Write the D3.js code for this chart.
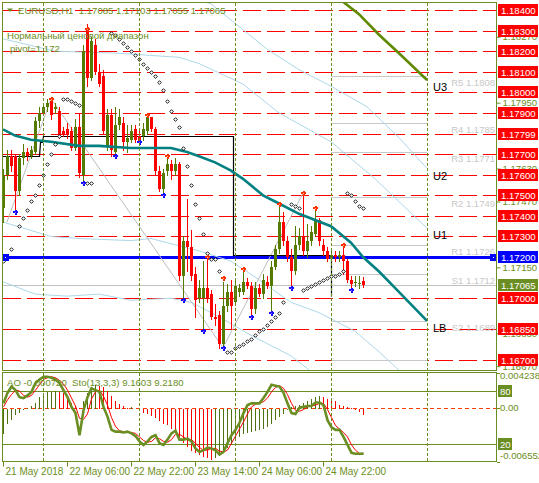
<!DOCTYPE html>
<html><head><meta charset="utf-8">
<script src="https://cdn.jsdelivr.net/npm/d3@7"></script>
<style>
html,body{margin:0;padding:0;background:#fff;}
svg{display:block;font-family:"Liberation Sans",Arial,sans-serif;}
</style></head><body>
<svg id="c" width="539" height="483"></svg>
<script>
// ---------------- DATA ----------------
const opens = [1.1744,1.1760,1.1769,1.1769,1.1752,1.1768,1.1771,1.1769,1.1771,1.1786,
1.1790,1.1793,1.1796,1.1792,1.1791,1.1781,1.1782,1.1781,1.1773,1.1783,
1.1760,1.1831,1.1807,1.1823,1.1810,1.1808,1.1774,1.1789,1.1771,1.1784,
1.1785,1.1776,1.1777,1.1782,1.1779,1.1779,1.1781,1.1788,1.1782,1.1762,
1.1753,1.1762,1.1765,1.1762,1.1765,1.1711,1.1728,1.1725,1.1712,1.1700,
1.1700,1.1705,1.1702,1.1691,1.1692,1.1678,1.1696,1.1703,1.1698,1.1703,
1.1703,1.1708,1.1706,1.1695,1.1705,1.1702,1.1708,1.1706,1.1715,1.1724,
1.1737,1.1728,1.1720,1.1713,1.1726,1.1730,1.1723,1.1728,1.1731,1.1738,
1.1726,1.1723,1.1719,1.1721,1.1720,1.1721,1.1718,1.1709,1.17075,1.1707,1.17085];
const highs = [1.1763,1.1772,1.1772,1.1770,1.1770,1.1775,1.1773,1.1774,1.1788,1.1793,
1.1795,1.1797,1.1797,1.1795,1.1793,1.1783,1.1785,1.1783,1.1787,1.1790,
1.1823,1.1833,1.1827,1.1826,1.1814,1.1811,1.1792,1.1792,1.1793,1.1792,
1.1788,1.1784,1.1784,1.1784,1.1781,1.1785,1.1788,1.1788,1.1783,1.1764,
1.1763,1.1768,1.1767,1.1768,1.1766,1.1730,1.1748,1.1733,1.1715,1.1709,
1.1718,1.1719,1.1704,1.1697,1.1694,1.1708,1.1707,1.1709,1.1709,1.1707,
1.1713,1.1710,1.1708,1.1708,1.1707,1.1712,1.1711,1.1718,1.1726,1.1745,
1.1742,1.1730,1.1724,1.1735,1.1734,1.1750,1.1736,1.1735,1.1743,1.1739,
1.1729,1.1725,1.1724,1.1723,1.1723,1.1725,1.1719,1.1711,1.1711,1.1711,1.17103];
const lows = [1.1737,1.1758,1.1762,1.1743,1.1750,1.1765,1.1767,1.1768,1.1770,1.1783,
1.1789,1.1791,1.1787,1.1790,1.1778,1.1779,1.1778,1.1772,1.1772,1.1759,
1.1756,1.1803,1.1806,1.1809,1.1803,1.1780,1.1772,1.1769,1.1769,1.1782,
1.1772,1.1771,1.1776,1.1776,1.1776,1.1777,1.1780,1.1781,1.1760,1.1752,
1.1751,1.1760,1.1758,1.1760,1.1709,1.1700,1.1713,1.1709,1.1691,1.1698,
1.1685,1.1698,1.1690,1.1687,1.1676,1.1675,1.1694,1.1685,1.1697,1.1701,
1.1702,1.1705,1.1691,1.1693,1.1701,1.1700,1.1705,1.1693,1.1714,1.1722,
1.1726,1.1718,1.1706,1.1712,1.1724,1.1721,1.1720,1.1726,1.1730,1.1726,
1.1721,1.1718,1.1718,1.1718,1.1718,1.1712,1.1708,1.1705,1.1706,1.1705,1.17055];
const closes = [1.1760,1.1769,1.1764,1.1752,1.1768,1.1771,1.1769,1.1772,1.1786,1.1790,
1.1793,1.1795,1.1789,1.1793,1.1780,1.1780,1.1780,1.1773,1.1783,1.1761,
1.1820,1.1807,1.1825,1.1810,1.1804,1.1781,1.1789,1.1772,1.1784,1.1788,
1.1776,1.1778,1.1781,1.1777,1.1776,1.1782,1.1788,1.1782,1.1762,1.1753,
1.1761,1.1765,1.1762,1.1765,1.1711,1.1728,1.1725,1.1711,1.1699,1.1705,
1.1705,1.1700,1.1691,1.1690,1.1678,1.1696,1.1703,1.1696,1.1706,1.1705,
1.1708,1.1706,1.1695,1.1705,1.1702,1.1709,1.1706,1.1715,1.1724,1.1737,
1.1728,1.1720,1.1713,1.1726,1.1730,1.1723,1.1728,1.1732,1.1738,1.1728,
1.1723,1.1719,1.1721,1.1720,1.1721,1.1718,1.1709,1.1707,1.1708,1.17075,1.17065];

// Parabolic SAR (null = not visible)
const sar = [1.1718,null,1.1724,null,1.1735,1.1739,1.1743,1.1747,1.1750,1.1755,
1.1760,1.1765,1.1770,1.1775,1.1779,1.1797,1.1797,1.1796,1.1795,1.1794,
null,1.1756,1.1756,null,null,null,null,1.1829,1.1828,1.1826,
1.1824,1.1822,1.1820,1.1818,1.1816,1.1814,1.1812,1.1810,1.1808,1.1805,
1.1801,1.1796,1.1791,1.1787,1.1783,1.1773,1.1764,1.1755,1.1746,1.1739,
1.1731,1.1722,1.1719,1.1719,1.1713,null,1.1674,1.1674,1.1676,1.1677,
1.1678,1.1679,1.1680,1.1682,1.1684,1.1685,1.1687,1.1689,1.1691,1.1693,
1.1698,null,1.1746,1.1745,1.1744,1.1704,1.1705,1.1706,1.1707,1.1708,
1.1709,1.1710,1.1711,1.1711,1.1712,1.1713,1.1751,1.1750,1.1747,1.1745,1.1744];

// Fractals
const fracUpIdx = [12,21,36,41,51,55,60,69,75,78,85];
const fracUpVal = [1.1797,1.1831,1.1789,1.1769,1.1720,1.1710,1.1714,1.1746,1.1751,1.1744,1.1726];
const fracDnIdx = [3,20,28,34,40,45,50,55,62,67,72,87];
const fracDnVal = [1.1742,1.1756,1.1769,1.1776,1.1750,1.1699,1.1684,1.1676,1.1691,1.1693,1.1705,1.1704];

// Moving average (teal) and envelope / band lines, sampled at bar indices
const maIdx = [0,3,7,12,19,24,32,42,46,49,53,57,60,65,69,74,82,87,90,94,98,106];
const maVal = [1.1782,1.1779,1.1777,1.1776,1.1774,1.1774,1.1773,1.1773,1.1771,1.1769,1.1766,1.1762,1.1758,1.1750,1.1746,1.1741,1.1735,1.1727,1.1720,1.1713,1.1705,1.1689];
const aIdx = [30,40,48,52,59,66,74,82,91,99,106];
const aVal = [1.1848,1.1847,1.1845,1.1843,1.1832,1.1821,1.1811,1.1803,1.1793,1.1778,1.1763];
const bIdx = [0,13,29,44,49,60,69,82,93,106];
const bVal = [1.1826,1.1820,1.1819,1.1817,1.1814,1.1804,1.1790,1.1776,1.1758,1.1734];
const cIdx = [0,12,19,32,37,49,57,64,72,79,88,94,99];
const cVal = [1.1737,1.1730,1.1729,1.1728,1.1729,1.1723,1.1718,1.1709,1.1698,1.1693,1.1684,1.1674,1.1665];
const dIdx = [0,4,8,16,24,32,42,47,54,62,72,76,79];
const dVal = [1.1708,1.1705,1.1702,1.1701,1.1702,1.1699,1.1700,1.1698,1.1691,1.1682,1.1672,1.1666,1.1661];
const u3Idx = [83,89,94,99,106];
const u3Val = [1.1847,1.1838,1.1828,1.1819,1.1806];
const zzIdx = [1,12,55,75];
const zzVal = [1.1737,1.1797,1.1676,1.1751];
const stepIdx = [-0.25,9,9.25,9.75,10,57.5,57.5,82,82];
const stepVal = [1.1769,1.1769,1.1776,1.1776,1.1779,1.1779,1.1721,1.1721,1.1701];

// Levels
const redLevels = [1.184,1.183,1.182,1.181,1.180,1.179,1.17799,1.177,1.176,1.175,1.174,1.173,1.170,1.1685,1.167];
const pivotLevel = 1.172;
const lastPrice = 1.17065;
const pivotNames = ["R5","R4","R3","R2","R1","S1","S2","S3"];
const pivotVals = [1.1808,1.1785,1.1771,1.1749,1.1726,1.1712,1.1689,1.1670];
// price-scale ticks that are not hidden under the level tags
const priceTicks = [1.1827,1.1795,1.1763,1.1747,1.1715,1.1683,1.1667];

// Time axis
const xTickIdx = [0,16,32,48,64,80];
const xTickLabels = ["21 May 2018","22 May 06:00","22 May 22:00","23 May 14:00","24 May 06:00","24 May 22:00"];
const separatorIdx = [10,34,58,82,106];

// Indicators
const ao = [-0.0030,-0.0019,-0.0013,-0.0007,-0.0005,-0.0002,0.0001,0.0003,0.0007,0.0014,
0.0018,0.0020,0.0021,0.0022,0.0021,0.0019,0.0015,0.0007,0.0003,0.0001,
0.0010,0.0019,0.0025,0.0029,0.0028,0.0026,0.0022,0.0016,0.0010,0.0006,
0.0003,0.0001,0.0002,0.0000,-0.0002,-0.0005,-0.0006,-0.0009,-0.0011,-0.0015,
-0.0019,-0.0020,-0.0024,-0.0028,-0.0036,-0.0042,-0.0047,-0.0051,-0.0054,-0.0056,
-0.0058,-0.0060,-0.0062,-0.0060,-0.0057,-0.0053,-0.0048,-0.0044,-0.0039,-0.0034,
-0.0031,-0.0029,-0.0028,-0.0027,-0.0026,-0.0024,-0.0022,-0.0018,-0.0014,-0.0010,
-0.0006,-0.0002,0.0002,0.0004,0.0005,0.0007,0.0009,0.0012,0.0014,0.0016,
0.0015,0.0012,0.0010,0.0009,0.0005,0.0004,0.0002,0.0001,-0.0002,-0.0004,-0.00072];
const aoMax = 0.004238, aoMin = -0.006552;
const stoMain = [66,78,85,81,73,72,75,79,89,93,96,96,95,93,89,81,73,62,55,30,
58,73,83,81,79,62,51,36,34,34,33,34,32,29,23,19,23,28,30,21,
19,25,32,35,25,25,26,23,15,11,13,16,15,13,8,11,21,30,36,44,
55,64,66,66,66,72,79,87,86,85,78,66,55,54,61,62,63,63,67,67,
64,47,39,36,36,28,19,10,9,9,9.1603];
const stoSig = [62,70,76,81,80,75,73,75,81,87,93,95,96,95,92,88,81,72,63,49,
48,54,71,79,81,74,64,50,40,35,34,34,33,32,28,24,22,23,27,26,
23,22,25,31,31,28,25,25,21,16,13,13,15,15,12,11,13,21,29,37,
45,54,62,65,66,68,72,79,84,86,83,76,66,58,57,59,62,63,64,66,
66,59,50,41,37,33,28,19,13,9.3,9.218];

// ---------------- DRAW ----------------
const OL = "#6b8e23", BULL = "#557a00", BEAR = "#ff0000";
const FONT = '"Liberation Sans",Arial,sans-serif';
const svg = d3.select("#c");
const x = d3.scaleLinear().domain([0,106]).range([3,427]);
const y = d3.scaleLinear().domain([1.167,1.184]).range([360,10]);
const aoY = d3.scaleLinear().domain([aoMin,aoMax]).range([461.7,373]);
const stY = d3.scaleLinear().domain([0,100]).range([461.7,373.3]);
const py = v => Math.round(y(v)) + 0.5;
const px = i => Math.round(x(i));

const defs = svg.append("defs");
defs.append("clipPath").attr("id","cm").append("rect").attr("x",3).attr("y",3).attr("width",493).attr("height",367);
defs.append("clipPath").attr("id","ci").append("rect").attr("x",3).attr("y",373).attr("width",493).attr("height",88);

const gM = svg.append("g").attr("clip-path","url(#cm)");
const gI = svg.append("g").attr("clip-path","url(#ci)");

// red dashed horizontal levels
gM.selectAll("line.red").data(redLevels).join("line")
  .attr("x1",3).attr("x2",496).attr("y1",d=>py(d)).attr("y2",d=>py(d))
  .attr("stroke","#ff0000").attr("stroke-width",1).attr("stroke-dasharray","18,6");

// pivot gray segments
gM.selectAll("line.piv").data(pivotVals).join("line")
  .attr("x1",x(82)).attr("x2",x(106)).attr("y1",d=>py(d)).attr("y2",d=>py(d))
  .attr("stroke","#c8c8c8").attr("stroke-width",1);

// current price line
gM.append("line").attr("x1",3).attr("x2",496).attr("y1",py(lastPrice)).attr("y2",py(lastPrice))
  .attr("stroke","#c0c0c0").attr("stroke-width",1);

// pivot blue line
const yb = Math.round(y(pivotLevel)) + 0.5;
gM.append("line").attr("x1",3).attr("x2",496).attr("y1",yb).attr("y2",yb)
  .attr("stroke","#0000ff").attr("stroke-width",3);

// separators (both panels)
separatorIdx.forEach(i=>{
  svg.append("line").attr("x1",px(i)+0.5).attr("x2",px(i)+0.5).attr("y1",3).attr("y2",370)
    .attr("stroke",OL).attr("stroke-width",1).attr("stroke-dasharray","3,2");
  svg.append("line").attr("x1",px(i)+0.5).attr("x2",px(i)+0.5).attr("y1",373).attr("y2",461)
    .attr("stroke",OL).attr("stroke-width",1).attr("stroke-dasharray","3,2");
});

const lineFrom = (idx, val) => d3.line().x((d,k)=>x(idx[k])).y(d=>y(d))(val);

// light blue envelopes
[[aIdx,aVal],[bIdx,bVal],[cIdx,cVal],[dIdx,dVal]].forEach(([ii,vv])=>{
  gM.append("path").attr("d",lineFrom(ii,vv)).attr("fill","none").attr("stroke","#add8e6").attr("stroke-width",1);
});
// zigzag
gM.append("path").attr("d",lineFrom(zzIdx,zzVal)).attr("fill","none").attr("stroke","#bdbdbd").attr("stroke-width",1);
// black step line
gM.append("path").attr("d",d3.line().x((d,k)=>Math.round(x(stepIdx[k]))+0.5).y(d=>py(d))(stepVal))
  .attr("fill","none").attr("stroke","#000").attr("stroke-width",1.2);

// candles
const candles = opens.map((o,i)=>({i,o,h:highs[i],l:lows[i],c:closes[i]}));
const gc = gM.append("g").attr("shape-rendering","crispEdges");
gc.selectAll("line.w").data(candles).join("line")
  .attr("x1",d=>px(d.i)+0.5).attr("x2",d=>px(d.i)+0.5)
  .attr("y1",d=>Math.round(y(d.h))).attr("y2",d=>Math.round(y(d.l))+1)
  .attr("stroke",d=>d.c>=d.o?BULL:BEAR).attr("stroke-width",1);
gc.selectAll("rect.b").data(candles).join("rect")
  .attr("x",d=>px(d.i)-1).attr("width",3)
  .attr("y",d=>Math.round(y(Math.max(d.o,d.c))))
  .attr("height",d=>Math.max(1,Math.round(y(Math.min(d.o,d.c)))-Math.round(y(Math.max(d.o,d.c)))))
  .attr("fill",d=>d.c>=d.o?BULL:BEAR);

// teal MA
gM.append("path").attr("d",lineFrom(maIdx,maVal)).attr("fill","none").attr("stroke","#008080").attr("stroke-width",2.6);
// olive upper band
gM.append("path").attr("d",lineFrom(u3Idx,u3Val)).attr("fill","none").attr("stroke","#5f8a00").attr("stroke-width",2.6);

// SAR dots
gM.selectAll("path.sar").data(sar.map((v,i)=>({i,v})).filter(d=>d.v!==null)).join("path")
  .attr("d",d=>{const cx=px(d.i)+0.5, cy=Math.round(y(d.v))+0.5; return `M${cx},${cy-1.8}L${cx+1.8},${cy}L${cx},${cy+1.8}L${cx-1.8},${cy}Z`;})
  .attr("fill","#fff").attr("stroke","#000").attr("stroke-width",0.9);

// fractals
function cross(i,v,col,mid){
  const cx=px(i), cy=Math.round(y(v));
  const g=gM.append("g").attr("shape-rendering","crispEdges");
  g.append("rect").attr("x",cx-2).attr("y",cy-1).attr("width",5).attr("height",2).attr("fill",col);
  g.append("rect").attr("x",cx-0.5).attr("y",cy-2.5).attr("width",2).attr("height",5).attr("fill",col);
  g.append("rect").attr("x",cx).attr("y",cy-0.5).attr("width",1).attr("height",1).attr("fill",mid);
}
fracUpIdx.forEach((i,k)=>cross(i,fracUpVal[k],"#ff3000","#ffb080"));
fracDnIdx.forEach((i,k)=>cross(i,fracDnVal[k],"#1010ff","#c040ff"));

// blue handles on pivot line
[[2,yb-3.5],[490,yb-3.5]].forEach(([xx,yy])=>{
  svg.append("rect").attr("x",xx).attr("y",yy).attr("width",7).attr("height",7).attr("fill","#0000ff");
  svg.append("rect").attr("x",xx+3).attr("y",yy+3).attr("width",1).attr("height",1).attr("fill","#fff");
});

// in-chart texts
const txt = (g,xx,yy,s,col,size,anchor)=>g.append("text").attr("x",xx).attr("y",yy).text(s)
  .attr("fill",col).style("font-size",size+"px").style("font-family",FONT).attr("text-anchor",anchor||"start")
  .style("white-space","pre");

pivotNames.forEach((n,k)=>{ if(n!=="S3") txt(gM,495,py(pivotVals[k])+9,n+" "+pivotVals[k].toFixed(4),"#c8c8c8",9.5,"end"); });
[["U3",u3Val[u3Val.length-1]],["U2",aVal[aVal.length-1]],["U1",bVal[bVal.length-1]],["LB",maVal[maVal.length-1]]]
  .forEach(([s,v])=>txt(gM,x(106)+6,y(v)+11,s,"#000",11));

svg.append("path").attr("d","M7,8.5L13,8.5L10,12Z").attr("fill",OL);
txt(svg,18,14,"EURUSD,H1  1.17085 1.17103 1.17055 1.17065",OL,9.6);
txt(svg,7,39,"Нормальный ценовой диапазон",OL,9.6);
txt(svg,10,52,"pivot=1.172",OL,9.6);

// ---- indicator panel ----
gI.append("line").attr("x1",3).attr("x2",496).attr("y1",Math.round(stY(80))+0.5).attr("y2",Math.round(stY(80))+0.5).attr("stroke",OL);
gI.append("line").attr("x1",3).attr("x2",496).attr("y1",Math.round(stY(20))+0.5).attr("y2",Math.round(stY(20))+0.5).attr("stroke",OL);
const y0 = Math.round(aoY(0))+0.5;
gI.append("line").attr("x1",3).attr("x2",496).attr("y1",y0).attr("y2",y0)
  .attr("stroke","#ff4000").attr("stroke-dasharray","4,3");
gI.append("g").attr("shape-rendering","crispEdges").selectAll("line").data(ao.map((v,i)=>({i,v}))).join("line")
  .attr("x1",d=>px(d.i)+0.5).attr("x2",d=>px(d.i)+0.5)
  .attr("y1",y0).attr("y2",d=>Math.round(aoY(d.v))+0.5)
  .attr("stroke",(d,i)=> (i===0 || d.v>=ao[i-1]) ? "#4f7010" : "#ff0000").attr("stroke-width",1);
gI.append("path").attr("d",d3.line().x((d,i)=>x(i)+0.5).y(d=>stY(d))(stoSig)).attr("fill","none").attr("stroke","#ff0000").attr("stroke-width",1);
gI.append("path").attr("d",d3.line().x((d,i)=>x(i)+0.5).y(d=>stY(d))(stoMain)).attr("fill","none").attr("stroke",OL).attr("stroke-width",2.6);
txt(svg,7,386,"AO -0.000720  Sto(13,3,3) 9.1603 9.2180",OL,9.6);

// ---- frames ----
const fr = svg.append("g").attr("fill","none").attr("stroke",OL).attr("stroke-width",1).attr("shape-rendering","crispEdges");
fr.append("rect").attr("x",2.5).attr("y",2.5).attr("width",494).attr("height",368);
fr.append("rect").attr("x",2.5).attr("y",372.5).attr("width",494).attr("height",89);

// ---- price axis ----
const ax = svg.append("g").attr("transform","translate(496.5,0)")
  .call(d3.axisRight(y).tickValues(priceTicks).tickSize(4).tickPadding(2).tickFormat(d=>d.toFixed(5)));
ax.select(".domain").remove();
ax.selectAll("line").attr("stroke",OL);
ax.selectAll("text").attr("fill",OL).style("font-size","9.6px").style("font-family",FONT);

function tag(v,label,col){
  const yc = Math.round(y(v));
  svg.append("rect").attr("x",498).attr("y",yc-6).attr("width",40).attr("height",12).attr("fill",col);
  txt(svg,501,yc+3.5,label,"#fff",9.6);
}
redLevels.forEach(v=>tag(v,v.toFixed(5),"#ff0000"));
tag(pivotLevel,pivotLevel.toFixed(5),"#0000ff");
tag(lastPrice,lastPrice.toFixed(5),OL);

// ---- indicator axis ----
[[aoMax,aoY(aoMax)+5.5,aoMax.toString()],[0,aoY(0)+3.5,"0.00"],[aoMin,aoY(aoMin)-2.5,aoMin.toString()]].forEach(([v,yy,s])=>{
  txt(svg,500,yy,s,OL,9.6);
});
[80,20].forEach(v=>{
  const yc=Math.round(stY(v));
  svg.append("rect").attr("x",498).attr("y",yc-6).attr("width",14).attr("height",12).attr("fill",OL);
  txt(svg,500,yc+3.5,String(v),"#fff",9.6);
});
[aoMax,0,aoMin].forEach(v=>svg.append("line").attr("x1",497).attr("x2",500).attr("y1",Math.round(aoY(v))+0.5).attr("y2",Math.round(aoY(v))+0.5).attr("stroke",OL));

// ---- time axis ----
const xa = svg.append("g").attr("transform","translate(0,461.5)")
  .call(d3.axisBottom(x).tickValues(xTickIdx).tickSize(5).tickFormat((d,k)=>xTickLabels[k]));
xa.select(".domain").remove();
xa.selectAll("line").attr("stroke",OL);
xa.selectAll("text").attr("fill",OL).attr("text-anchor","start").attr("x",2).attr("y",6).attr("dy","0.71em")
  .style("font-size","10px").style("font-family",FONT);
</script></body></html>
